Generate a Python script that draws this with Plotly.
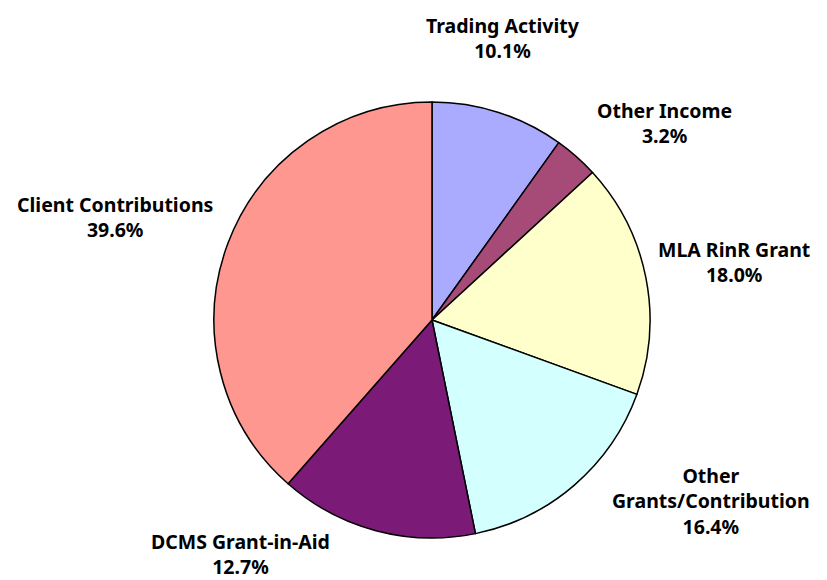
import plotly.graph_objects as go

# Data
categories = ['Trading Activity', 'Other Income', 'MLA RinR Grant',
              'Other Grants/Contribution', 'DCMS Grant-in-Aid', 'Client Contributions']
label_text = ['Trading Activity', 'Other Income', 'MLA RinR Grant',
              'Other<br>Grants/Contribution', 'DCMS Grant-in-Aid', 'Client Contributions']
# percentages printed on the chart
printed_pct = ['10.1%', '3.2%', '18.0%', '16.4%', '12.7%', '39.6%']
# slice sizes as drawn
slice_sizes = [9.9, 3.3, 17.4, 16.3, 14.7, 38.6]
colors = ['#AAAAFF', '#A64B78', '#FFFFCC', '#D4FFFF', '#7B1A77', '#FF9791']

# label centres in pixels (layout only)
label_px = [(503, 38), (664, 123), (734, 262), (711, 501), (240, 554), (115, 217)]

W, H = 827, 580
cx, cy, r = 432, 320, 218

fig = go.Figure()
fig.add_trace(go.Pie(
    labels=categories,
    values=slice_sizes,
    sort=False,
    direction='clockwise',
    rotation=0,
    marker=dict(colors=colors, line=dict(color='black', width=1.5)),
    textinfo='none',
    hoverinfo='label',
    showlegend=False,
    domain=dict(x=[(cx - r) / W, (cx + r) / W], y=[1 - (cy + r) / H, 1 - (cy - r) / H]),
))

for txt, pct, (px, py) in zip(label_text, printed_pct, label_px):
    fig.add_annotation(
        x=px / W, y=1 - py / H, xref='paper', yref='paper',
        text=f'<b>{txt}<br>{pct}</b>',
        showarrow=False, align='center',
        xanchor='center', yanchor='middle',
        font=dict(family='Noto Sans', size=19.5, color='black'),
    )

fig.update_layout(
    width=W, height=H,
    margin=dict(l=0, r=0, t=0, b=0),
    paper_bgcolor='white',
    plot_bgcolor='white',
    font=dict(family='Noto Sans'),
)

# drop the browser's default body margin so the figure fills the window
fig.write_html('out.html', config={'displayModeBar': False},
               post_script="document.body.style.margin='0';")
